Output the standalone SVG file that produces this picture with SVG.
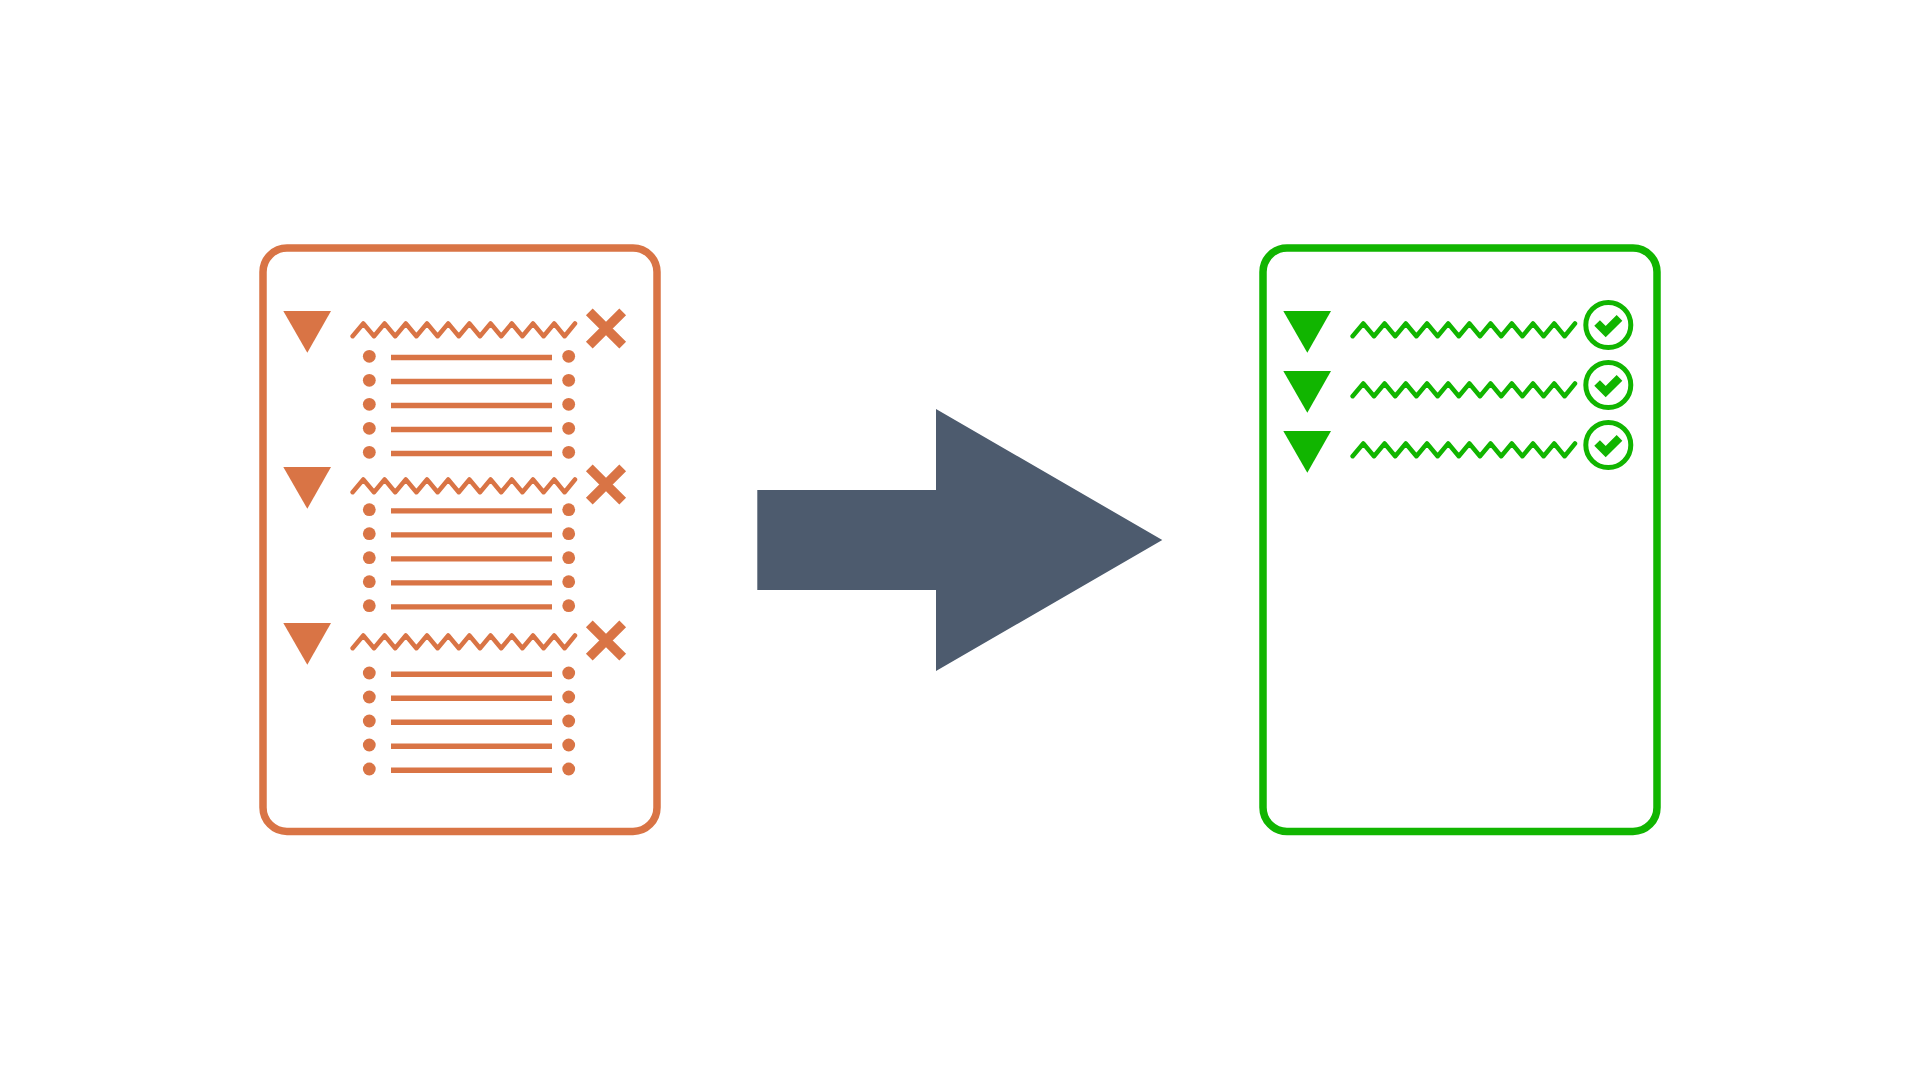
<svg xmlns="http://www.w3.org/2000/svg" width="1920" height="1080" viewBox="0 0 1920 1080">
<style>
.frame{fill:none;stroke-width:7.5}
.zig{fill:none;stroke-width:4.5;stroke-linecap:round;stroke-linejoin:round}
.o{stroke:#d97445}.g{stroke:#11b500}
.of{fill:#d97445}.gf{fill:#11b500}
.rule{stroke:#d97445;stroke-width:5.4;fill:none}
.x{stroke:#d97445;stroke-width:9.5;fill:none}
.ring{fill:none;stroke:#11b500;stroke-width:5}
.chk{fill:none;stroke:#11b500;stroke-width:8}
</style>
<defs>
<polygon id="tri" points="283.3,311 331,311 307.3,352.7"/>
<path id="zigp" d="M352.6,336.2 L363.3,323.5 L374,336.2 L384.6,323.5 L395.2,336.2 L405.8,323.5 L416.4,336.2 L427,323.5 L437.6,336.2 L448.2,323.5 L458.8,336.2 L469.4,323.5 L480,336.2 L490.6,323.5 L501.2,336.2 L511.8,323.5 L522.4,336.2 L533,323.5 L543.6,336.2 L554.2,323.5 L564.6,336.2 L575,323.5"/>
<path id="cross" d="M589.3,311.8 L622.7,345.2 M622.7,311.8 L589.3,345.2"/>
<g id="list">
<circle cx="369.3" cy="0" r="6.4"/><circle cx="568.7" cy="0" r="6.4"/>
<circle cx="369.3" cy="24" r="6.4"/><circle cx="568.7" cy="24" r="6.4"/>
<circle cx="369.3" cy="48" r="6.4"/><circle cx="568.7" cy="48" r="6.4"/>
<circle cx="369.3" cy="72" r="6.4"/><circle cx="568.7" cy="72" r="6.4"/>
<circle cx="369.3" cy="96" r="6.4"/><circle cx="568.7" cy="96" r="6.4"/>
<path class="rule" d="M391,1.2H552M391,25.2H552M391,49.2H552M391,73.2H552M391,97.2H552"/>
</g>
<g id="tick">
<circle class="ring" cx="1608.3" cy="325" r="22.5"/>
<path class="chk" d="M1597.1,323 L1605.7,331.6 L1619.5,317.8"/>
</g>
</defs>
<rect width="1920" height="1080" fill="#ffffff"/>
<g id="before">
<rect class="frame o" x="263" y="248" width="394" height="583.5" rx="24" ry="24"/>
<g id="before-1">
<use href="#tri" class="of"/><use href="#zigp" class="zig o"/><use href="#cross" class="x"/>
<use href="#list" class="of" transform="translate(0,356.3)"/>
</g>
<g id="before-2">
<use href="#tri" class="of" transform="translate(0,156)"/><use href="#zigp" class="zig o" transform="translate(0,156)"/><use href="#cross" class="x" transform="translate(0,156)"/>
<use href="#list" class="of" transform="translate(0,509.7)"/>
</g>
<g id="before-3">
<use href="#tri" class="of" transform="translate(0,312)"/><use href="#zigp" class="zig o" transform="translate(0,312)"/><use href="#cross" class="x" transform="translate(0,312)"/>
<use href="#list" class="of" transform="translate(0,673)"/>
</g>
</g>
<g id="connectors">
<polygon points="757.3,490 936,490 936,409 1162.3,540 936,671 936,590 757.3,590" fill="#4d5b6e"/>
</g>
<g id="after">
<rect class="frame g" x="1263" y="248" width="394" height="583.5" rx="24" ry="24"/>
<g id="after-1">
<use href="#tri" class="gf" transform="translate(1000,0)"/><use href="#zigp" class="zig g" transform="translate(1000,0)"/><use href="#tick"/>
</g>
<g id="after-2">
<use href="#tri" class="gf" transform="translate(1000,60)"/><use href="#zigp" class="zig g" transform="translate(1000,60)"/><use href="#tick" transform="translate(0,60)"/>
</g>
<g id="after-3">
<use href="#tri" class="gf" transform="translate(1000,120)"/><use href="#zigp" class="zig g" transform="translate(1000,120)"/><use href="#tick" transform="translate(0,120)"/>
</g>
</g>
</svg>
